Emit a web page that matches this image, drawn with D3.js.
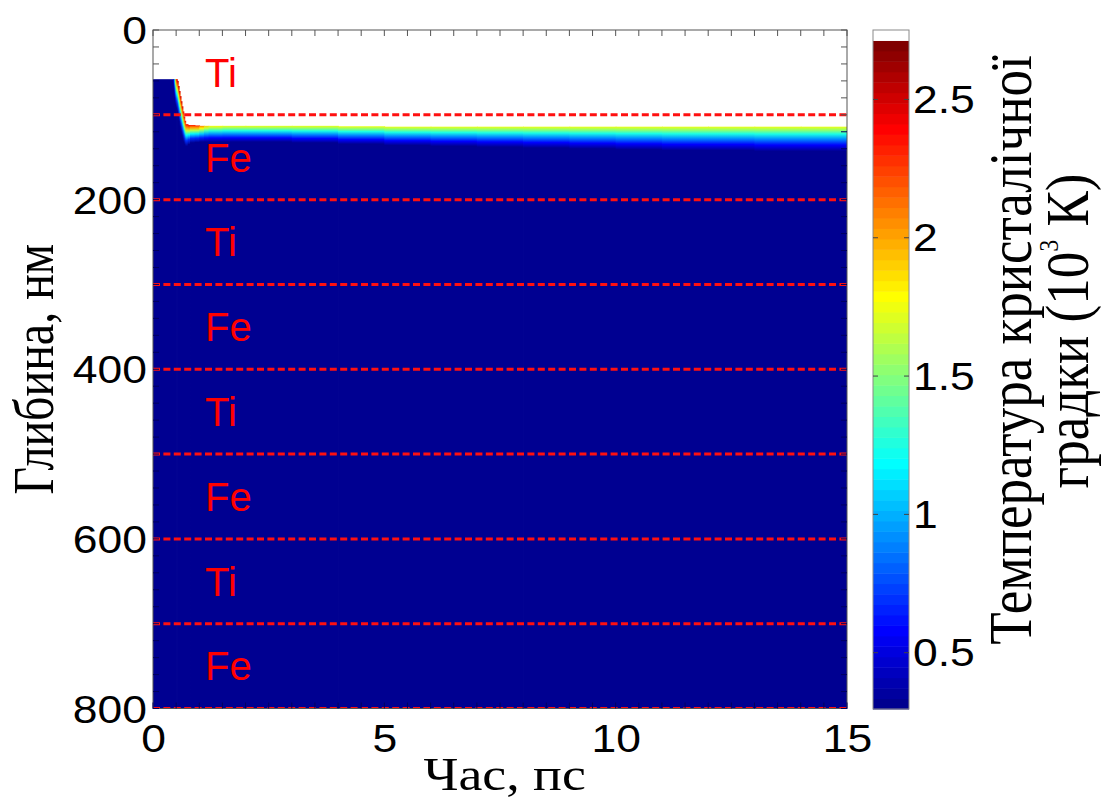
<!DOCTYPE html>
<html>
<head>
<meta charset="utf-8">
<script src="https://cdn.jsdelivr.net/npm/d3@7"></script>
<style>
  body { margin: 0; background: #fff; }
</style>
</head>
<body>
<div id="canvas"></div>
<script>
'use strict';

/* Axis tick labels. */
const timeTicks = [0, 5, 10, 15];
const depthTicks = [0, 200, 400, 600, 800];
const colorTicks = [0.5, 1, 1.5, 2, 2.5];

/* Ti/Fe multilayer, 100 nm per layer. */
const layerMid = [50, 150, 250, 350, 450, 550, 650, 750];
const layerNames = ['Ti', 'Fe', 'Ti', 'Fe', 'Ti', 'Fe', 'Ti', 'Fe'];
const interfaces = [100, 200, 300, 400, 500, 600, 700, 800];

/* Lattice temperature (10^3 K), one column per time step (ps).
 * surfaceDepth: top of the remaining film, nm
 * surfaceTemp: temperature at that surface
 * heatedDepth: thickness of the heated layer below the surface, nm */
const stepTime = [0, 0.44, 0.46, 0.48, 0.50, 0.52, 0.54, 0.56, 0.58, 0.60,
  0.62, 0.64, 0.66, 0.68, 0.70, 0.75, 0.80, 0.90, 1.00, 1.10, 1.20, 1.5,
  2, 3, 4, 5, 6, 7, 8, 9, 10, 11, 12, 13, 14];
const surfaceDepth = [58, 58, 58, 58, 58, 60, 66, 72, 78, 84,
  90, 96, 102, 107, 111, 112, 112, 112.5, 113, 113, 113, 113,
  113, 113, 113.5, 114, 114, 114, 114, 114, 114, 114, 114, 114, 114];
const surfaceTemp = [0.3, 0.6, 1.3, 2.0, 2.45, 2.5, 2.5, 2.5, 2.5, 2.5,
  2.5, 2.45, 2.45, 2.4, 2.4, 2.4, 2.35, 2.3, 2.1, 1.9, 1.8, 1.75,
  1.75, 1.75, 1.75, 1.75, 1.75, 1.75, 1.75, 1.75, 1.75, 1.75, 1.75, 1.75, 1.75];
const heatedDepth = [0, 12, 22, 30, 34, 36, 36, 36, 36, 35,
  34, 32, 30, 28, 26, 23, 21, 20, 19, 19, 19, 19,
  19, 20, 21, 22, 23, 24, 25, 26, 27, 28, 28, 29, 29];
/* Shape of the heated layer: fraction of depth vs share of the excess. */
const profileOffset = [0, 0.15, 0.3, 0.5, 0.75, 1];
const profileShare = [1, 0.84, 0.65, 0.42, 0.18, 0];

const coldTemp = 0.3;
const timeEnd = 15;
const depthEnd = 800;
/* Colour bar: 64 jet colours plus a white cap (void). */
const colorMin = 0.2965;
const colorMax = 2.751;

const STRETCH = 1.17;
const SANS = 'Liberation Sans, Arial, sans-serif';
const SERIF = 'Liberation Serif, Times New Roman, serif';

const plotBox = {left: 153, top: 30, right: 847, bottom: 708.5};
const barBox = {left: 873, right: 909};

function jet(t) {
  const c = (v) => Math.round(255 * Math.max(0, Math.min(1, v)));
  return d3.rgb(c(1.5 - Math.abs(4 * t - 3)), c(1.5 - Math.abs(4 * t - 2)),
      c(1.5 - Math.abs(4 * t - 1))).formatHex();
}

const x = d3.scaleLinear([0, timeEnd], [plotBox.left, plotBox.right]);
const y = d3.scaleLinear([0, depthEnd], [plotBox.top, plotBox.bottom]);
const bandStep = (colorMax - colorMin) / 65;
const colorTop = colorMin + 64 * bandStep;
const toJet = d3.scaleLinear([colorMin, colorTop], [1 / 64, 1]).clamp(true);
const color = (v) => jet(toJet(v));
const barY = d3.scaleLinear([colorMin, colorMax], [709, 30]);

const svg = d3.select('#canvas').append('svg')
    .attr('width', 1109)
    .attr('height', 803);
const defs = svg.append('defs');

defs.append('clipPath')
    .attr('id', 'plot-clip')
    .append('rect')
    .attr('x', plotBox.left)
    .attr('y', plotBox.top)
    .attr('width', plotBox.right - plotBox.left)
    .attr('height', plotBox.bottom - plotBox.top);

/* Temperature columns: vertical gradient from the surface downwards. */
const columns = stepTime.map((t, i) => ({
  t0: t,
  t1: i + 1 < stepTime.length ? stepTime[i + 1] : timeEnd,
  surface: surfaceDepth[i],
  temp: surfaceTemp[i],
  depth: heatedDepth[i],
}));

columns.forEach((col, i) => {
  const grad = defs.append('linearGradient')
      .attr('id', `col-${i}`)
      .attr('gradientUnits', 'userSpaceOnUse')
      .attr('x1', 0).attr('x2', 0)
      .attr('y1', y(col.surface))
      .attr('y2', y(col.surface + Math.max(col.depth, 1)));
  profileOffset.forEach((off, j) => {
    const v = coldTemp + profileShare[j] * (col.temp - coldTemp);
    grad.append('stop')
        .attr('offset', off)
        .attr('stop-color', color(col.depth > 0 ? v : coldTemp));
  });
});

const field = svg.append('g').attr('clip-path', 'url(#plot-clip)');
field.selectAll('rect')
    .data(columns)
    .join('rect')
    .attr('x', (d) => x(d.t0))
    .attr('width', (d) => x(d.t1) - x(d.t0) + 0.8)
    .attr('y', (d) => y(d.surface))
    .attr('height', (d) => y(depthEnd) - y(d.surface))
    .attr('fill', (d, i) => `url(#col-${i})`);

/* Axes box with inward MATLAB style ticks. */
const frame = svg.append('g')
    .attr('stroke', '#555')
    .attr('stroke-width', 1)
    .attr('fill', 'none');
frame.append('rect')
    .attr('x', plotBox.left)
    .attr('y', plotBox.top)
    .attr('width', plotBox.right - plotBox.left)
    .attr('height', plotBox.bottom - plotBox.top);

const tickLen = 6;
const minorX = x.ticks(30);
const minorY = y.ticks(40);
frame.selectAll('line.tx')
    .data(minorX)
    .join('line')
    .attr('class', 'tx')
    .attr('x1', (d) => x(d)).attr('x2', (d) => x(d))
    .attr('y1', plotBox.top).attr('y2', plotBox.top + tickLen);
frame.selectAll('line.bx')
    .data(minorX)
    .join('line')
    .attr('class', 'bx')
    .attr('stroke', '#000060')
    .attr('x1', (d) => x(d)).attr('x2', (d) => x(d))
    .attr('y1', plotBox.bottom).attr('y2', plotBox.bottom - tickLen);
frame.selectAll('line.ly')
    .data(minorY)
    .join('line')
    .attr('class', 'ly')
    .attr('stroke', (d) => (d < 58 ? '#555' : '#000060'))
    .attr('y1', (d) => y(d)).attr('y2', (d) => y(d))
    .attr('x1', plotBox.left).attr('x2', plotBox.left + tickLen);
frame.selectAll('line.ry')
    .data(minorY)
    .join('line')
    .attr('class', 'ry')
    .attr('stroke', (d) => (d < 114 ? '#555' : '#000060'))
    .attr('y1', (d) => y(d)).attr('y2', (d) => y(d))
    .attr('x1', plotBox.right).attr('x2', plotBox.right - tickLen);

/* Layer interfaces. */
field.selectAll('line.interface')
    .data(interfaces)
    .join('line')
    .attr('class', 'interface')
    .attr('x1', x(0))
    .attr('x2', x(timeEnd))
    .attr('y1', (d) => y(d))
    .attr('y2', (d) => y(d))
    .attr('stroke', '#ff1010')
    .attr('stroke-width', 3)
    .attr('stroke-dasharray', '7,3.4');

svg.append('g').selectAll('text')
    .data(layerNames)
    .join('text')
    .attr('x', x(0) + 52)
    .attr('y', (d, i) => y(layerMid[i]))
    .attr('dy', '0.36em')
    .attr('font-family', SANS)
    .attr('font-size', 40)
    .attr('fill', '#ff0000')
    .text((d) => d);

function styleAxis(g) {
  g.select('.domain').remove();
  g.selectAll('line').remove();
  g.selectAll('text')
      .attr('font-family', SANS)
      .attr('font-size', 38)
      .attr('fill', '#000');
}

svg.append('g')
    .attr('transform', `translate(0,${plotBox.bottom})`)
    .call(d3.axisBottom(x).tickValues(timeTicks).tickFormat(d3.format('d'))
        .tickSize(0).tickPadding(17))
    .call(styleAxis)
    .selectAll('text')
    .attr('transform', `scale(${STRETCH},1)`);

svg.append('g')
    .attr('transform', `translate(${plotBox.left},0)`)
    .call(d3.axisLeft(y).tickValues(depthTicks).tickFormat(d3.format('d'))
        .tickSize(0).tickPadding(6))
    .call(styleAxis)
    .selectAll('text')
    .attr('dy', '0.36em')
    .attr('transform', `scale(${STRETCH},1)`)
    .attr('x', -6 / STRETCH);

svg.append('text')
    .attr('transform', `translate(${x(7.6)},790) scale(${STRETCH},1)`)
    .attr('text-anchor', 'middle')
    .attr('font-family', SERIF)
    .attr('font-size', 46)
    .text('Час, пс');

svg.append('text')
    .attr('transform', `translate(53,${y(400)}) rotate(-90) scale(1,${STRETCH})`)
    .attr('text-anchor', 'middle')
    .attr('font-family', SERIF)
    .attr('font-size', 48)
    .text('Глибина, нм');

/* Colour bar. */
const bands = d3.range(65).map((k) => ({
  v0: colorMin + k * bandStep,
  v1: colorMin + (k + 1) * bandStep,
  fill: k < 64 ? jet((k + 1) / 64) : '#ffffff',
}));
const bar = svg.append('g');
bar.selectAll('rect')
    .data(bands)
    .join('rect')
    .attr('x', barBox.left)
    .attr('width', barBox.right - barBox.left)
    .attr('y', (d) => barY(d.v1))
    .attr('height', (d) => barY(d.v0) - barY(d.v1) + 0.5)
    .attr('fill', (d) => d.fill);
bar.append('rect')
    .attr('x', barBox.left)
    .attr('y', barY(colorMax))
    .attr('width', barBox.right - barBox.left)
    .attr('height', barY(colorMin) - barY(colorMax))
    .attr('fill', 'none')
    .attr('stroke', '#8a8a8a');
bar.selectAll('line.cl')
    .data(colorTicks)
    .join('line')
    .attr('class', 'cl')
    .attr('x1', barBox.left).attr('x2', barBox.left + 5)
    .attr('y1', (d) => barY(d)).attr('y2', (d) => barY(d))
    .attr('stroke', '#444');
bar.selectAll('line.cr')
    .data(colorTicks)
    .join('line')
    .attr('class', 'cr')
    .attr('x1', barBox.right).attr('x2', barBox.right - 5)
    .attr('y1', (d) => barY(d)).attr('y2', (d) => barY(d))
    .attr('stroke', '#444');
bar.selectAll('text')
    .data(colorTicks)
    .join('text')
    .attr('transform', (d) =>
      `translate(${barBox.right + 4},${barY(d)}) scale(${STRETCH},1)`)
    .attr('dy', '0.36em')
    .attr('font-family', SANS)
    .attr('font-size', 38)
    .text((d) => d);

const barLabel = svg.append('g')
    .attr('font-family', SERIF)
    .attr('font-size', 53)
    .attr('text-anchor', 'middle');
barLabel.append('text')
    .attr('transform', `translate(1031,350) rotate(-90) scale(1,${STRETCH})`)
    .text('Температура кристалічної');
const line2 = barLabel.append('text')
    .attr('transform', `translate(1088,331) rotate(-90) scale(1,${STRETCH})`);
line2.append('tspan').text('градки (10');
line2.append('tspan')
    .attr('font-size', 24)
    .attr('dy', -26)
    .text('3');
line2.append('tspan')
    .attr('dy', 26)
    .text(' К)');
</script>
</body>
</html>
